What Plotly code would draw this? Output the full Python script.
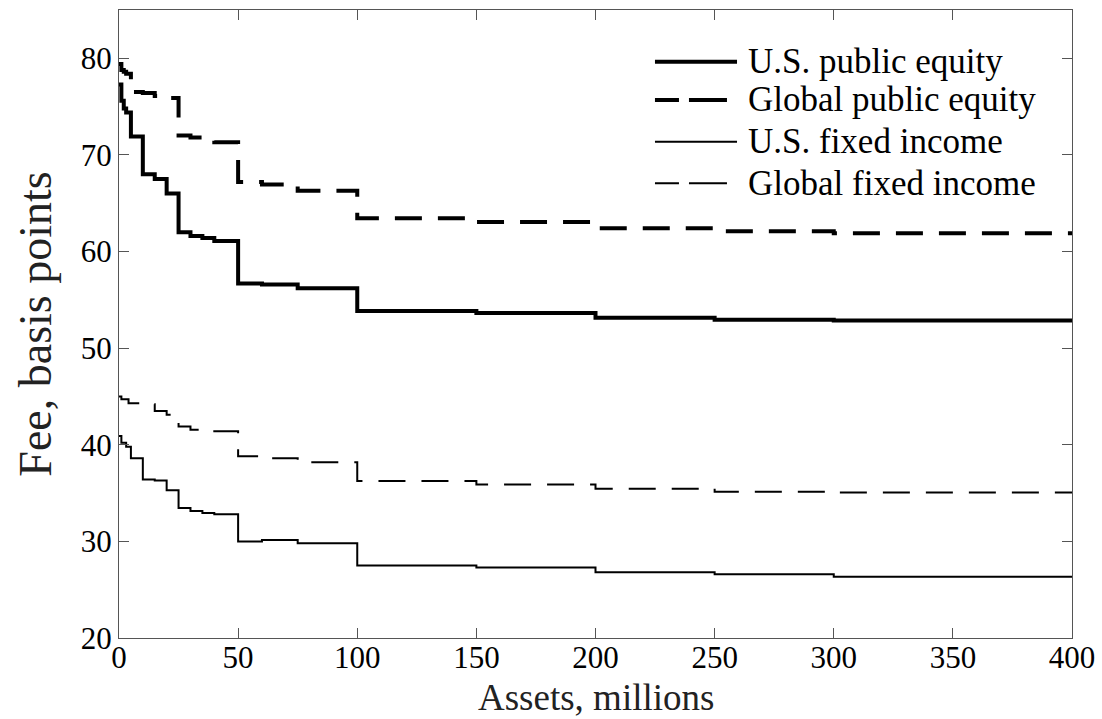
import plotly.graph_objects as go

# ---------------- data (step schedules: fee from each breakpoint on) ----------------
us_pe_assets = [0, 1, 2, 3, 5, 10, 15, 20, 25, 30, 35, 40, 50, 60, 75, 100, 150, 200, 250, 300, 400]
us_pe_fee = [77.3, 75.6, 74.8, 74.4, 71.9, 68.0, 67.5, 66.0, 62.0, 61.6, 61.4, 61.1,
             56.7, 56.6, 56.2, 53.85, 53.65, 53.15, 52.95, 52.85, 52.85]

gl_pe_assets = [0, 1, 2, 3, 5, 10, 15, 20, 25, 30, 35, 40, 50, 60, 75, 100, 150, 200, 250, 300, 400]
gl_pe_fee = [79.4, 78.8, 78.6, 78.4, 76.5, 76.4, 76.1, 75.9, 72.0, 71.8, 71.6, 71.3,
             67.2, 66.95, 66.3, 63.45, 63.05, 62.4, 62.1, 61.9, 61.9]

us_fi_assets = [0, 1, 3, 5, 10, 15, 20, 25, 30, 35, 40, 50, 60, 75, 100, 150, 200, 250, 300, 400]
us_fi_fee = [40.9, 40.2, 39.8, 38.6, 36.4, 36.3, 35.3, 33.45, 33.15, 32.95, 32.8,
             30.0, 30.15, 29.8, 27.5, 27.3, 26.8, 26.6, 26.35, 26.35]

gl_fi_assets = [0, 1, 4, 10, 15, 20, 25, 30, 40, 50, 60, 75, 100, 150, 200, 250, 300, 400]
gl_fi_fee = [45.0, 44.7, 44.3, 44.2, 43.5, 43.1, 41.9, 41.55, 41.4, 38.8, 38.6, 38.2,
             36.25, 35.9, 35.45, 35.15, 35.05, 35.05]

series_names = ["U.S. public equity", "Global public equity", "U.S. fixed income", "Global fixed income"]
x_ticks = [0, 50, 100, 150, 200, 250, 300, 350, 400]
y_ticks = [20, 30, 40, 50, 60, 70, 80]
x_title = "Assets, millions"
y_title = "Fee, basis points"

# ---------------- styling ----------------
FONT = "Liberation Serif, Times New Roman, DejaVu Serif, serif"
styles = [
    dict(width=4, dash="solid"),
    dict(width=4, dash="27px,16px"),
    dict(width=2, dash="solid"),
    dict(width=2, dash="27px,16px"),
]
legend_dash = ["solid", "24px,10px,38px,20px", "solid", "24px,10px,38px,20px"]

fig = go.Figure()
data = [(us_pe_assets, us_pe_fee), (gl_pe_assets, gl_pe_fee),
        (us_fi_assets, us_fi_fee), (gl_fi_assets, gl_fi_fee)]
for (xs, ys), name, st in zip(data, series_names, styles):
    fig.add_trace(go.Scatter(x=xs, y=ys, mode="lines", name=name, line_shape="hv",
                             line=dict(color="black", width=st["width"], dash=st["dash"]),
                             showlegend=False))

# custom legend (paper coordinates)
leg_x0, leg_x1, txt_x = 0.5624, 0.6485, 0.658
leg_rows = [0.9177, 0.8567, 0.7903, 0.7240]
for name, st, ld, yy in zip(series_names, styles, legend_dash, leg_rows):
    fig.add_shape(type="line", xref="paper", yref="paper", x0=leg_x0, x1=leg_x1, y0=yy, y1=yy,
                  line=dict(color="black", width=st["width"], dash=ld))
    fig.add_annotation(xref="paper", yref="paper", x=txt_x, y=yy, text=name, showarrow=False,
                       xanchor="left", yanchor="middle",
                       font=dict(family=FONT, size=35, color="black"))

# x-axis title as annotation (fixed position below tick labels)
fig.add_annotation(xref="paper", yref="paper", x=0.5, y=-0.094, text=x_title, showarrow=False,
                   xanchor="center", yanchor="middle",
                   font=dict(family=FONT, size=37, color="#222"))

axis_common = dict(showline=True, linecolor="#555", linewidth=1, mirror="ticks",
                   ticks="inside", ticklen=10, tickcolor="#555", showgrid=False, zeroline=False,
                   automargin=False,
                   tickfont=dict(family=FONT, size=31, color="black"))

fig.update_layout(
    width=1102, height=719,
    margin=dict(l=119, r=30, t=10, b=81),
    plot_bgcolor="white", paper_bgcolor="white",
    font=dict(family=FONT),
    xaxis=dict(range=[0, 400], tickvals=x_ticks, ticklabelstandoff=-8, **axis_common),
    yaxis=dict(range=[20, 85], tickvals=y_ticks, title=dict(text=y_title,
               font=dict(family=FONT, size=46, color="#222"), standoff=14), **axis_common),
)

fig.write_html("out.html", config={"displayModeBar": False},
               post_script="document.body.style.margin='0';document.body.style.overflow='hidden';")
